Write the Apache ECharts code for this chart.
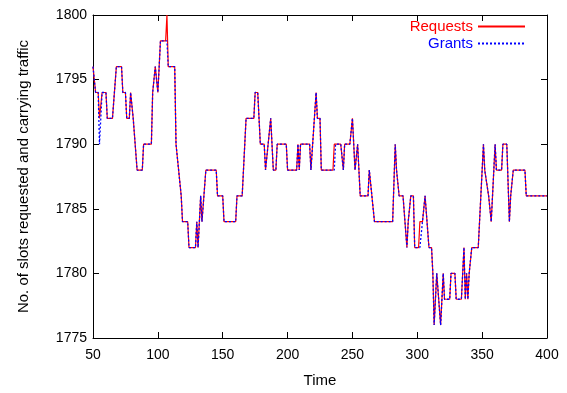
<!DOCTYPE html>
<html>
<head>
<meta charset="utf-8">
<script src="https://cdn.jsdelivr.net/npm/echarts@6/dist/echarts.min.js"></script>
<style>
html,body{margin:0;padding:0;background:#fff;}
#c{width:567px;height:393px;}
</style>
</head>
<body>
<div id="c"></div>
<script>
var xTicks = [50, 100, 150, 200, 250, 300, 350, 400];
var yTicks = [1775, 1780, 1785, 1790, 1795, 1800];
var seriesNames = ['Requests', 'Grants'];

var requests = [
  [50,1796],[52,1794],[54,1794],[55,1792],[57,1794],[60,1794],[61,1792],[65,1792],
  [68,1796],[72,1796],[73,1794],[75,1794],[76,1792],[78,1792],[79,1794],[80,1794],
  [81,1792],[82,1792],[84,1788],[88,1788],[89,1790],[95,1790],[96,1794],[97,1794],
  [98,1796],[99,1796],[100,1794],[101,1794],[102,1798],[106,1798],[107,1800],[108,1796],
  [113,1796],[114,1790],[115,1790],[116,1788],[117,1788],[118,1786],[119,1784],[123,1784],
  [124,1782],[129,1782],[130,1784],[131,1782],[132,1784],[133,1786],[134,1784],[137,1788],
  [145,1788],[146,1786],[150,1786],[151,1784],[160,1784],[161,1786],[165,1786],[166,1788],
  [168,1792],[174,1792],[175,1794],[177,1794],[179,1790],[182,1790],[183,1788],[185,1790],
  [187,1792],[188,1790],[189,1788],[191,1788],[192,1790],[199,1790],[200,1788],[207,1788],
  [208,1790],[209,1788],[210,1790],[217,1790],[218,1788],[222,1794],[223,1792],[225,1792],
  [226,1788],[235,1788],[236,1790],[241,1790],[243,1788],[244,1790],[248,1790],[250,1792],
  [252,1788],[254,1790],[255,1788],[256,1786],[262,1786],[263,1788],[265,1786],[267,1784],
  [281,1784],[283,1790],[284,1788],[286,1786],[289,1786],[292,1782],[293,1784],[295,1786],
  [297,1786],[298,1782],[301,1782],[302,1784],[304,1784],[306,1786],[307,1786],[309,1782],
  [311,1782],[312,1780],[313,1776],[314,1778],[315,1780],[316,1780],[318,1776],[320,1780],
  [321,1778],[325,1778],[326,1780],[329,1780],[330,1778],[334,1778],[336,1782],[337,1778],
  [338,1780],[339,1778],[340,1780],[342,1782],[347,1782],[351,1790],[352,1788],[353,1788],
  [355,1786],[356,1786],[357,1784],[358,1786],[360,1790],[361,1788],[365,1788],[366,1790],
  [369,1790],[371,1784],[372,1786],[374,1788],[383,1788],[384,1786],[400,1786]
];

var grants = [
  [50,1796],[52,1794],[54,1794],[55,1790],[56,1792],[57,1794],[60,1794],[61,1792],[65,1792],
  [68,1796],[72,1796],[73,1794],[75,1794],[76,1792],[78,1792],[79,1794],[80,1794],
  [81,1792],[82,1792],[84,1788],[88,1788],[89,1790],[95,1790],[96,1794],[97,1794],
  [98,1796],[99,1796],[100,1794],[101,1794],[102,1798],[107,1798],[108,1796],
  [113,1796],[114,1790],[115,1790],[116,1788],[117,1788],[118,1786],[119,1784],[123,1784],
  [124,1782],[129,1782],[130,1784],[131,1782],[132,1782],[133,1786],[134,1784],[137,1788],
  [145,1788],[146,1786],[150,1786],[151,1784],[160,1784],[161,1786],[165,1786],[166,1788],
  [168,1792],[174,1792],[175,1794],[177,1794],[179,1790],[182,1790],[183,1788],[185,1790],
  [187,1792],[188,1790],[189,1788],[191,1788],[192,1790],[199,1790],[200,1788],[207,1788],
  [208,1790],[209,1788],[210,1790],[217,1790],[218,1788],[222,1794],[223,1792],[225,1792],
  [226,1788],[236,1788],[237,1790],[241,1790],[243,1788],[244,1790],[248,1790],[250,1792],
  [252,1788],[254,1790],[255,1788],[256,1786],[262,1786],[263,1788],[265,1786],[267,1784],
  [281,1784],[283,1790],[284,1788],[286,1786],[289,1786],[292,1782],[293,1784],[295,1786],
  [297,1786],[298,1782],[302,1782],[304,1784],[306,1786],[307,1786],[309,1782],
  [311,1782],[312,1780],[313,1776],[314,1778],[315,1780],[316,1780],[318,1776],[320,1780],
  [321,1778],[325,1778],[326,1780],[329,1780],[330,1778],[334,1778],[336,1782],[337,1778],
  [338,1780],[339,1778],[340,1780],[342,1782],[347,1782],[351,1790],[352,1788],[353,1788],
  [355,1786],[356,1786],[357,1784],[358,1786],[360,1790],[361,1788],[365,1788],[366,1790],
  [369,1790],[371,1784],[372,1786],[374,1788],[383,1788],[384,1786],[400,1786]
];

var FONT = 'Liberation Sans, Arial, sans-serif';
var chart = echarts.init(document.getElementById('c'), null, {renderer: 'canvas'});

var xMin = xTicks[0], xMax = xTicks[xTicks.length - 1];
var yMin = yTicks[0], yMax = yTicks[yTicks.length - 1];
var xInt = xTicks[1] - xTicks[0], yInt = yTicks[1] - yTicks[0];

function mirrorAxis(pos, min, max, interval) {
  return {
    type: 'value', position: pos, min: min, max: max, interval: interval,
    axisLine: {show: true, lineStyle: {color: '#000', width: 1}},
    axisTick: {show: true, inside: true, length: 6, lineStyle: {color: '#000'}},
    axisLabel: {show: false}, splitLine: {show: false}
  };
}

chart.setOption({
  animation: false,
  backgroundColor: '#fff',
  grid: {left: 93, right: 20, top: 15, bottom: 52, containLabel: false},
  legend: {
    orient: 'vertical', align: 'right', right: 36, top: 14,
    itemWidth: 47, itemHeight: 14, itemGap: 2,
    itemStyle: {opacity: 0, borderWidth: 0},
    textStyle: {fontFamily: FONT, fontSize: 15},
    data: [
      {name: seriesNames[0], textStyle: {color: '#ff0000'}},
      {name: seriesNames[1], textStyle: {color: '#0000ff'}}
    ]
  },
  xAxis: [{
    type: 'value', min: xMin, max: xMax, interval: xInt, position: 'bottom',
    name: 'Time', nameLocation: 'middle', nameGap: 35,
    nameTextStyle: {fontFamily: FONT, fontSize: 15, color: '#000'},
    axisLine: {show: true, lineStyle: {color: '#000', width: 1}},
    axisTick: {show: true, inside: true, length: 6, lineStyle: {color: '#000'}},
    axisLabel: {fontFamily: FONT, fontSize: 14, color: '#000', margin: 10,
      formatter: function (v) { return String(v); }},
    splitLine: {show: false}
  }, mirrorAxis('top', xMin, xMax, xInt)],
  yAxis: [{
    type: 'value', min: yMin, max: yMax, interval: yInt, position: 'left',
    name: 'No. of slots requested and carrying traffic', nameLocation: 'middle', nameGap: 62,
    nameTextStyle: {fontFamily: FONT, fontSize: 15, color: '#000'},
    axisLine: {show: true, lineStyle: {color: '#000', width: 1}},
    axisTick: {show: true, inside: true, length: 6, lineStyle: {color: '#000'}},
    axisLabel: {fontFamily: FONT, fontSize: 14, color: '#000', margin: 6,
      formatter: function (v) { return String(v); }},
    splitLine: {show: false}
  }, mirrorAxis('right', yMin, yMax, yInt)],
  series: [{
    name: seriesNames[0], type: 'line', data: requests, showSymbol: false, symbol: 'none',
    color: '#ff0000', lineStyle: {color: '#ff0000', width: 1.2, type: 'solid'}
  }, {
    name: seriesNames[1], type: 'line', data: grants, showSymbol: false, symbol: 'none',
    color: '#0000ff', lineStyle: {color: '#0000ff', width: 1.3, type: [2, 2]}
  }]
});
</script>
</body>
</html>
